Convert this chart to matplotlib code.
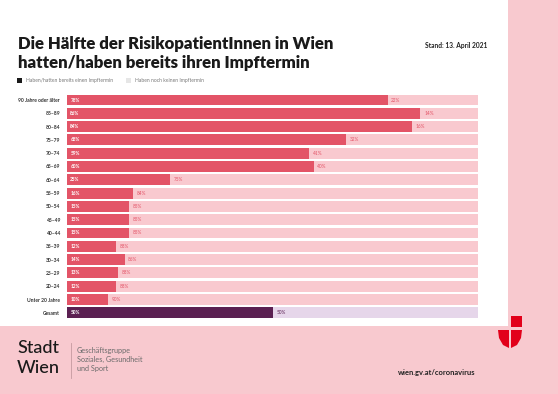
import math
import matplotlib
matplotlib.use("Agg")
import matplotlib.pyplot as plt
from matplotlib.patches import Rectangle, Polygon

# ---- data ----
categories = ["90 Jahre oder älter", "85–89", "80–84", "75–79", "70–74", "65–69",
              "60–64", "55–59", "50–54", "45–49", "40–44", "35–39", "30–34",
              "25–29", "20–24", "Unter 20 Jahre", "Gesamt"]
have_appt = [78, 86, 84, 68, 59, 60, 25, 16, 15, 15, 15, 12, 14, 12.5, 12, 10, 50]
no_appt = [100 - v for v in have_appt]
legend_labels = ["Haben/hatten bereits einen Impftermin", "Haben noch keinen Impftermin"]
title_lines = ["Die Hälfte der RisikopatientInnen in Wien",
               "hatten/haben bereits ihren Impftermin"]
stand_text = "Stand: 13. April 2021"

W, H = 558, 394
PINK_BG = "#f8c9cf"
RED = "#e35467"
LIGHT = "#f9c9cf"
PURPLE = "#5b2052"
LAVENDER = "#e6d6ea"
FONT = ["Lato", "DejaVu Sans"]

plt.rcParams["font.family"] = FONT

fig = plt.figure(figsize=(W / 100, H / 100), dpi=100)
fig.patch.set_facecolor(PINK_BG)

# background canvas in pixel coordinates
bg = fig.add_axes([0, 0, 1, 1], zorder=0)
bg.set_xlim(0, W)
bg.set_ylim(H, 0)
bg.axis("off")
bg.add_patch(Rectangle((0, 0), 508, 326, facecolor="white", edgecolor="none"))

def px(x, y, s, **kw):
    bg.text(x, y, s, **kw)

# title
px(18, 44, title_lines[0], fontsize=12.1, fontweight="heavy", color="#1a1a1a", va="center", ha="left")
px(18, 63, title_lines[1], fontsize=12.1, fontweight="heavy", color="#1a1a1a", va="center", ha="left")
px(425, 45, stand_text, fontsize=4.8, fontweight="bold", color="#222222", va="center", ha="left")

# legend
bg.add_patch(Rectangle((17, 77.5), 5, 5, facecolor="#1a1a1a", edgecolor="none"))
px(26, 80, legend_labels[0], fontsize=3.6, color="#777777", va="center", ha="left")
bg.add_patch(Rectangle((126, 77.5), 5, 5, facecolor="#e6e6e6", edgecolor="none"))
px(135, 80, legend_labels[1], fontsize=3.6, color="#777777", va="center", ha="left")

# footer
px(17, 348, "Stadt", fontsize=13, fontweight="medium", color="#1a1a1a", va="center", ha="left")
px(17, 368, "Wien", fontsize=13, fontweight="medium", color="#1a1a1a", va="center", ha="left")
bg.plot([71, 71], [343, 378], color="#c59aa0", lw=0.6)
for i, line in enumerate(["Geschäftsgruppe", "Soziales, Gesundheit", "und Sport"]):
    px(77, 350 + i * 9.2, line, fontsize=5.2, color="#6b6b6b", va="center", ha="left")
px(475, 373, "wien.gv.at/coronavirus", fontsize=5.4, fontweight="bold", color="#222222",
   va="center", ha="right")

# Wien logo
LOGO = "#e2001a"
bg.add_patch(Rectangle((511, 316), 11, 11, facecolor=LOGO, edgecolor="none"))
bg.add_patch(Polygon([(498, 330), (509, 330), (509, 348), (503, 345), (499, 338)],
                     closed=True, facecolor=LOGO, edgecolor="none"))
bg.add_patch(Polygon([(511, 330), (522, 330), (521, 338), (517, 345), (511, 348)],
                     closed=True, facecolor=LOGO, edgecolor="none"))

# ---- bar chart ----
n = len(categories)
top_px, step = 100, 13.3
y_top = top_px - step / 2
y_bot = top_px + step * (n - 1) + step / 2
x_left, x_right = 67, 478
ax = fig.add_axes([x_left / W, 1 - y_bot / H, (x_right - x_left) / W, (y_bot - y_top) / H], zorder=1)
ax.set_facecolor("none")
ypos = list(range(n))
dark_colors = [RED] * (n - 1) + [PURPLE]
light_colors = [LIGHT] * (n - 1) + [LAVENDER]
outer_text = [RED] * (n - 1) + [PURPLE]
bh = 0.82
ax.barh(ypos, have_appt, height=bh, color=dark_colors, edgecolor="none")
ax.barh(ypos, no_appt, left=have_appt, height=bh, color=light_colors, edgecolor="none")
ax.set_xlim(0, 100)
ax.set_ylim(n - 0.5, -0.5)
ax.set_yticks(ypos)
ax.set_yticklabels(categories)
ax.tick_params(axis="y", length=0, pad=5, labelsize=3.6, labelcolor="#333333")
for lbl in ax.get_yticklabels():
    lbl.set_fontweight("bold")
ax.set_xticks([])
for s in ax.spines.values():
    s.set_visible(False)

def r(v):
    return int(math.floor(v + 0.5))

for i, (h, nn) in enumerate(zip(have_appt, no_appt)):
    ax.text(0.8, i, f"{r(h)}%", color="white", fontsize=3.4, fontweight="bold",
            va="center", ha="left")
    ax.text(h + 0.9, i, f"{r(nn)}%", color=outer_text[i], fontsize=3.4,
            va="center", ha="left")

fig.savefig("out.png", dpi=100, facecolor=fig.get_facecolor())
